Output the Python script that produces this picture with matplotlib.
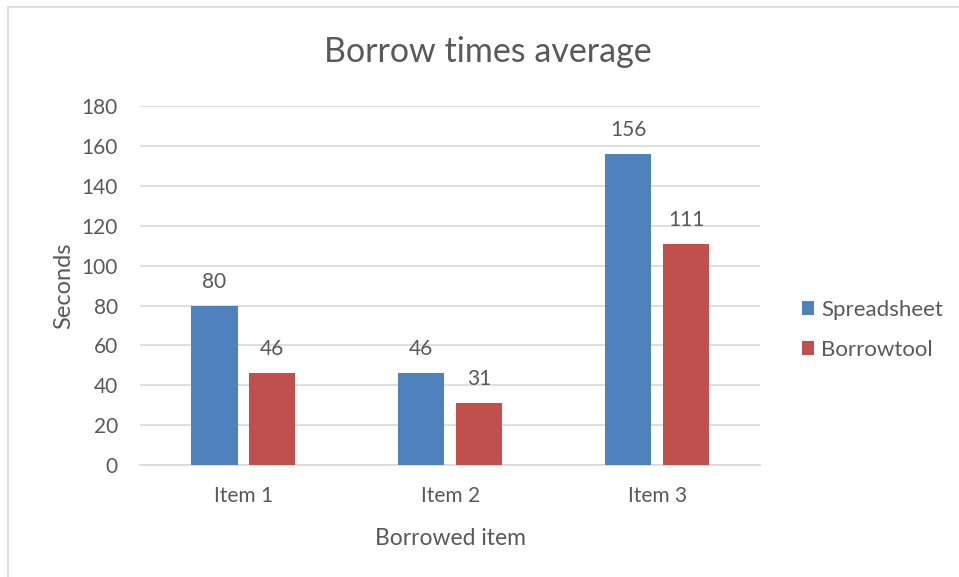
import numpy as np
import matplotlib.pyplot as plt
from matplotlib.patches import Rectangle

items = ['Item 1', 'Item 2', 'Item 3']
spreadsheet = [80, 46, 156]
borrowtool = [46, 31, 111]
series_names = ['Spreadsheet', 'Borrowtool']
colors = ['#4f81bd', '#c0504d']
text_color = '#595959'

plt.rcParams['font.family'] = ['Lato', 'DejaVu Sans']

fig = plt.figure(figsize=(9.59, 5.77), dpi=100)
ax = fig.add_axes([0.146, 0.194, 0.647, 0.622])

# light frame around the chart area, like the Excel chart border
fig.patches.append(Rectangle((8 / 959, -0.01), 1.0, 1 - 7 / 577 + 0.01,
                             transform=fig.transFigure, fill=False,
                             edgecolor='#d9d9d9', linewidth=1.2))

x = np.arange(len(items))
w = 0.223
off = 0.14
b1 = ax.bar(x - off, spreadsheet, w, color=colors[0], label=series_names[0], zorder=3)
b2 = ax.bar(x + off, borrowtool, w, color=colors[1], label=series_names[1], zorder=3)

for bars, vals in [(b1, spreadsheet), (b2, borrowtool)]:
    for rect, v in zip(bars, vals):
        ax.annotate(str(v), (rect.get_x() + rect.get_width() / 2, v),
                    xytext=(0, 10), textcoords='offset points',
                    ha='center', va='bottom', fontsize=15, color=text_color)

ax.set_xlim(-0.5, 2.5)
ax.set_ylim(0, 180)
ax.set_yticks(range(0, 181, 20))
ax.set_xticks(x)
ax.set_xticklabels(items)
ax.tick_params(length=0, labelsize=15, colors=text_color)
ax.tick_params(axis='y', pad=16)
ax.tick_params(axis='x', pad=15)
ax.yaxis.grid(True, color='#d9d9d9', linewidth=1.2, zorder=0)
for s in ['top', 'right', 'left']:
    ax.spines[s].set_visible(False)
ax.spines['bottom'].set_color('#d9d9d9')
ax.spines['bottom'].set_linewidth(1.2)

# title is centred on the whole chart area, not on the plot area
fig.text(488 / 959, 1 - 52 / 577, 'Borrow times average', fontsize=24.5,
         color=text_color, ha='center', va='center')
ax.set_ylabel('Seconds', fontsize=17, color=text_color, labelpad=5)
ax.set_xlabel('Borrowed item', fontsize=16.5, color=text_color, labelpad=16)

fig.legend(loc='center left', bbox_to_anchor=(0.815, 0.428), frameon=False,
           fontsize=16, labelcolor=text_color, handlelength=0.58, handleheight=0.58,
           handletextpad=0.3, labelspacing=0.9)

fig.savefig('out.png', dpi=100)
